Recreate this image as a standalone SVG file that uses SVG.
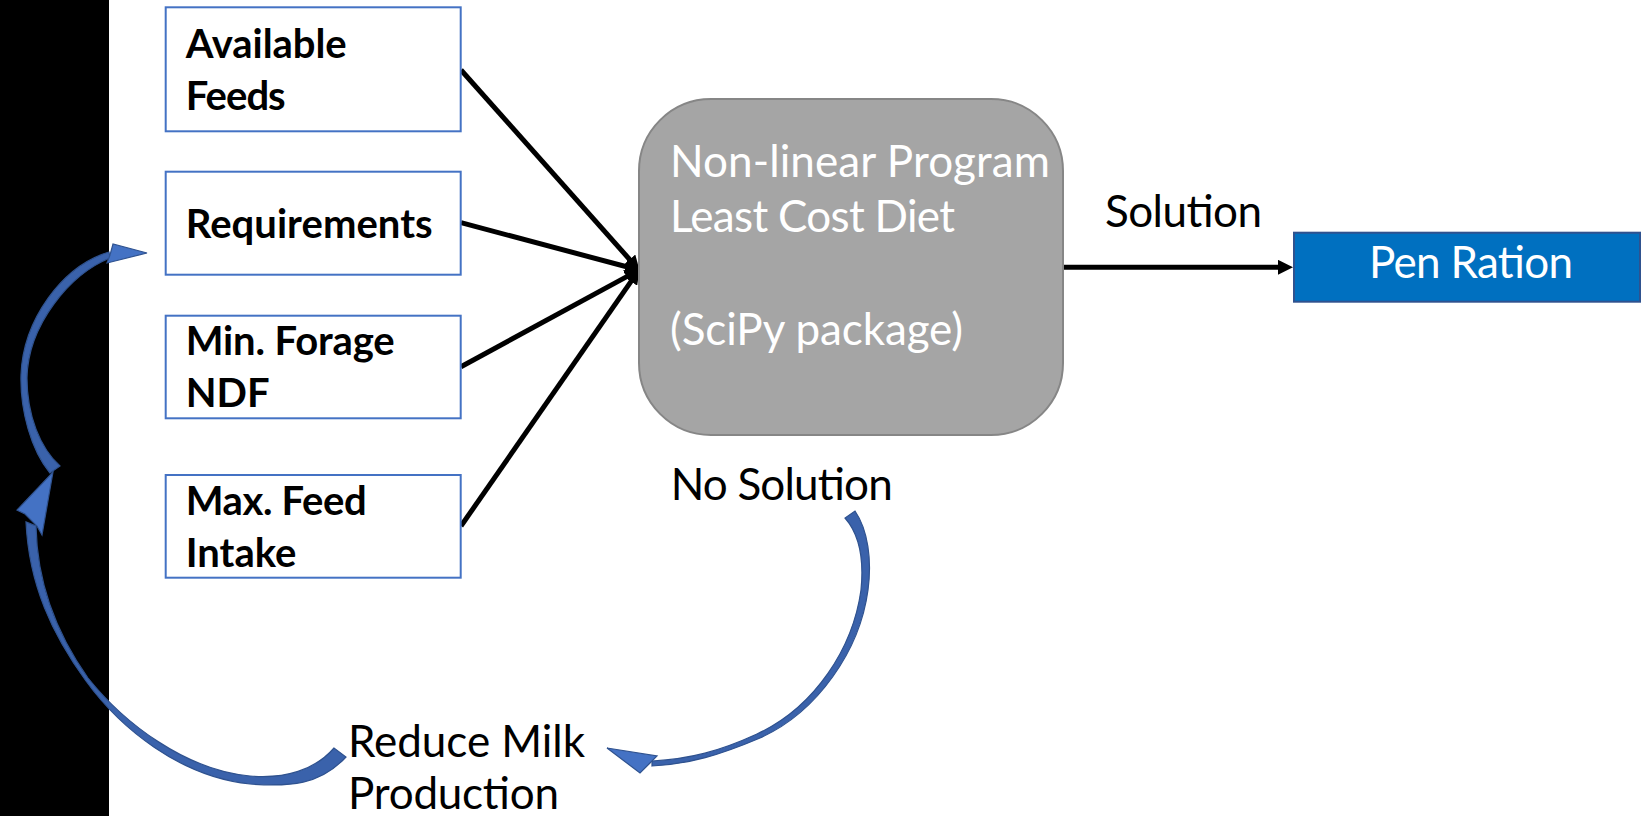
<svg xmlns="http://www.w3.org/2000/svg" width="1642" height="816" viewBox="0 0 1642 816">
  <style>
    .box { fill: #ffffff; stroke: #4472c4; stroke-width: 2; }
    .bt { font-family: Lato, "Liberation Sans", sans-serif; font-weight: bold; font-size: 40px; fill: #000000; }
    .rt { font-family: Lato, "Liberation Sans", sans-serif; font-size: 44px; }
    .conn { stroke: #000000; stroke-width: 5; fill: none; marker-end: url(#ah); }
    .shaft { fill: #3a62ab; stroke: #2f528f; stroke-width: 1.2; }
    .head { fill: #4472c4; stroke: #2f528f; stroke-width: 1.2; stroke-linejoin: miter; }
  </style>
  <defs>
    <marker id="ah" markerUnits="userSpaceOnUse" markerWidth="15" markerHeight="15" refX="8" refY="7.5" orient="auto">
      <path d="M0,0 L15,7.5 L0,15 z" fill="#000000"/>
    </marker>
  </defs>
  <rect width="1642" height="816" fill="#ffffff"/>
  <rect x="0" y="0" width="109" height="816" fill="#000000"/>

  <g id="connectors">
    <line class="conn" x1="461" y1="70" x2="635" y2="265.5"/>
    <line class="conn" x1="461" y1="222.7" x2="633.2" y2="268.5"/>
    <line class="conn" x1="461" y1="366.7" x2="633.7" y2="272.9"/>
    <line class="conn" x1="461" y1="526" x2="635.6" y2="274.9"/>
    <line class="conn" x1="1063" y1="267.3" x2="1286" y2="267.3"/>
    <g id="loop-no-solution">
      <path class="shaft" d="M855,511 C868,530 872,560 868,590 C860,650 818,712 760,738 C720,755 690,764 652,766 L652,761 C690,759 720,751 757,734 C815,707 853,648 861,590 C864,560 860,535 845,518 Z"/>
      <polygon class="head" points="607,748 657,756 650,763 640,773"/>
    </g>
    <g id="loop-reduce">
      <path class="shaft" d="M346,757 C320,785 290,787 250,784 C180,777 120,728 86,681 C52,634 29,585 26,522 L36,526 C37,580 54,630 88,678 C124,723 185,770 250,776 C285,779 315,770 334,748 Z"/>
      <polygon class="head" points="53,472 42,535 37,526 25,514 17,510"/>
    </g>
    <g id="loop-requirements">
      <path class="shaft" d="M50,473 C31,450 20,410 21,375 C23,320 62,266 109,252 L110,258 C70,274 28,325 27,378 C27,415 40,448 60,466 Z"/>
      <polygon class="head" points="147,253 113,244 110,255 107,263"/>
    </g>
  </g>

  <g id="node-available-feeds">
    <rect class="box" x="165.7" y="7.3" width="295" height="124"/>
    <text class="bt" x="185.7" y="58.3" textLength="161">Available</text>
    <text class="bt" x="185.7" y="110" textLength="100">Feeds</text>
  </g>
  <g id="node-requirements">
    <rect class="box" x="165.7" y="171.7" width="295" height="103"/>
    <text class="bt" x="185.7" y="238.3" textLength="247">Requirements</text>
  </g>
  <g id="node-min-forage">
    <rect class="box" x="165.7" y="315.7" width="295" height="102.6"/>
    <text class="bt" x="185.7" y="355" textLength="209">Min. Forage</text>
    <text class="bt" x="185.7" y="406.7">NDF</text>
  </g>
  <g id="node-max-feed">
    <rect class="box" x="165.7" y="475" width="295" height="102.7"/>
    <text class="bt" x="185.7" y="515" textLength="181">Max. Feed</text>
    <text class="bt" x="185.7" y="566.7">Intake</text>
  </g>
  <g id="node-program">
    <rect x="639" y="99" width="424" height="336" rx="72" ry="72" fill="#a5a5a5" stroke="#868686" stroke-width="2"/>
    <text class="rt" fill="#ffffff" x="670" y="176.7" textLength="380">Non-linear Program</text>
    <text class="rt" fill="#ffffff" x="670" y="231.7" textLength="285">Least Cost Diet</text>
    <text class="rt" fill="#ffffff" x="670" y="344.7" textLength="293">(SciPy package)</text>
  </g>
  <g id="label-solution">
    <text class="rt" fill="#000000" x="1105" y="226.7" textLength="157">Solution</text>
  </g>
  <g id="node-pen-ration">
    <rect x="1294" y="232.7" width="346" height="69" fill="#0070c0" stroke="#2f528f" stroke-width="2"/>
    <text class="rt" fill="#ffffff" x="1369" y="277.7" textLength="204">Pen Ration</text>
  </g>
  <g id="label-no-solution">
    <text class="rt" fill="#000000" x="670.7" y="500" textLength="222">No Solution</text>
  </g>
  <g id="node-reduce-milk">
    <text class="rt" fill="#000000" x="348" y="757" textLength="237">Reduce Milk</text>
    <text class="rt" fill="#000000" x="348" y="809" textLength="211">Production</text>
  </g>
</svg>
